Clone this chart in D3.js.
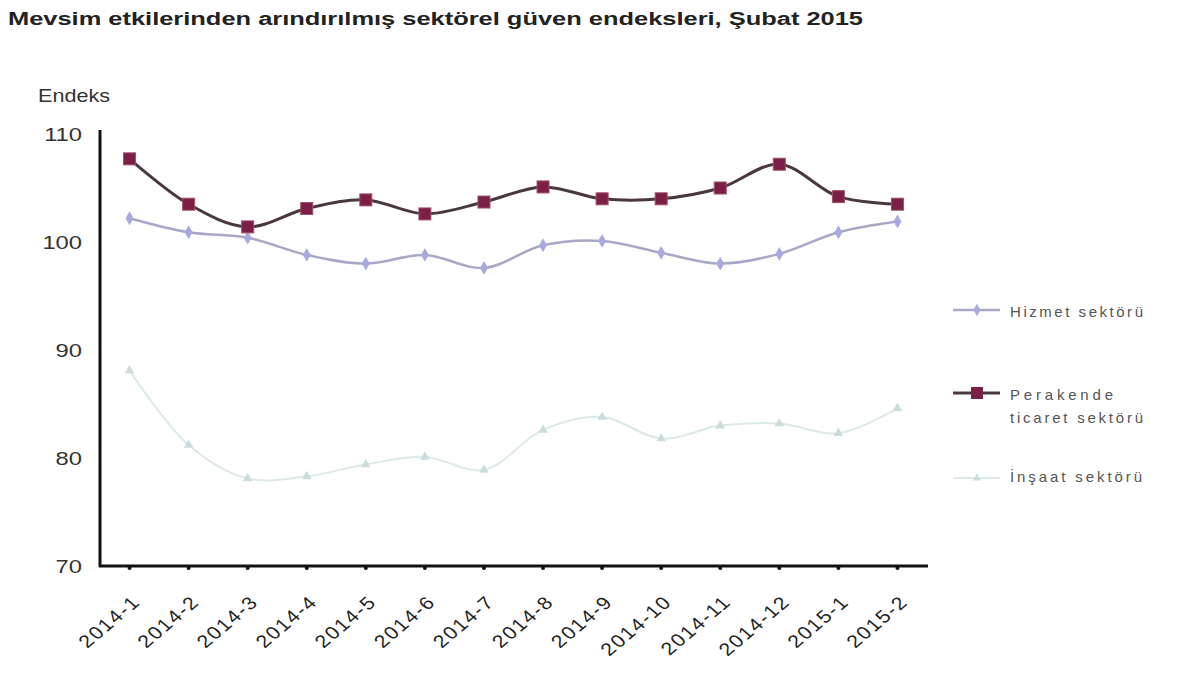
<!DOCTYPE html>
<html><head><meta charset="utf-8">
<script src="https://cdn.jsdelivr.net/npm/d3@7"></script>
<style>body{margin:0;background:#fff}svg{display:block}</style>
</head><body>
<svg id="c" width="1200" height="675"></svg>
<script>
const categories = ["2014-1","2014-2","2014-3","2014-4","2014-5","2014-6","2014-7","2014-8","2014-9","2014-10","2014-11","2014-12","2015-1","2015-2"];
const hizmet = [102.2,100.9,100.4,98.8,98.0,98.8,97.6,99.7,100.1,99.0,98.0,98.9,100.9,101.9];
const perakende = [107.7,103.5,101.4,103.1,103.9,102.6,103.7,105.1,104.0,104.0,105.0,107.2,104.2,103.5];
const insaat = [88.1,81.2,78.1,78.3,79.4,80.1,78.9,82.6,83.8,81.8,83.0,83.2,82.3,84.6];
const yTicks = [70,80,90,100,110];

const svg = d3.select("#c");
const x = d3.scaleBand().domain(categories).range([100,927]);
const cx = d => x(d) + x.bandwidth()/2;
const y = d3.scaleLinear().domain([70,110]).range([566,134]);
const font = "'Liberation Sans', Arial, sans-serif";
const SX = 1.2;

svg.append("text").attr("x",8).attr("y",25).attr("font-family","'Liberation Sans Narrow','Liberation Sans',Arial,sans-serif")
  .attr("font-weight","bold").attr("font-size",18).attr("fill","#222")
  .attr("textLength",855).attr("lengthAdjust","spacingAndGlyphs")
  .text("Mevsim etkilerinden arındırılmış sektörel güven endeksleri, Şubat 2015");

svg.append("text").attr("transform",`translate(38,102) scale(${SX},1)`).attr("font-family",font).attr("font-size",18).attr("fill","#333").text("Endeks");

// y tick labels
svg.append("g").selectAll("text").data(yTicks).join("text")
  .attr("transform",d=>`translate(82,${y(d)+7}) scale(1.25,1)`).attr("text-anchor","end")
  .attr("font-family",font).attr("font-size",19).attr("fill","#333").text(d=>d);

// axes lines
svg.append("line").attr("x1",100).attr("x2",100).attr("y1",130).attr("y2",567).attr("stroke","#111").attr("stroke-width",3);
svg.append("line").attr("x1",99).attr("x2",928).attr("y1",566).attr("y2",566).attr("stroke","#111").attr("stroke-width",3);
// x tick dots
svg.append("g").selectAll("circle").data(categories).join("circle")
  .attr("cx",d=>cx(d)).attr("cy",568).attr("r",2).attr("fill","#111");
// x tick labels
svg.append("g").selectAll("text").data(categories).join("text")
  .attr("transform",d=>`translate(${cx(d)+12},${603}) scale(1.18,1) rotate(-45)`)
  .attr("text-anchor","end").attr("font-family",font).attr("font-size",18).attr("letter-spacing",1.5)
  .attr("fill","#222").text(d=>d);

const line = d3.line().x((d,i)=>cx(categories[i])).y(d=>y(d)).curve(d3.curveCatmullRom.alpha(0.5));

// insaat
svg.append("path").attr("d",line(insaat)).attr("fill","none").attr("stroke","#dde9e9").attr("stroke-width",2);
svg.append("g").selectAll("path").data(insaat).join("path")
  .attr("d",d3.symbol(d3.symbolTriangle,40)).attr("transform",(d,i)=>`translate(${cx(categories[i])},${y(d)})`).attr("fill","#cadcdc");
// hizmet
svg.append("path").attr("d",line(hizmet)).attr("fill","none").attr("stroke","#a8a8c6").attr("stroke-width",2.5);
svg.append("g").selectAll("path").data(hizmet).join("path")
  .attr("d",d3.symbol(d3.symbolDiamond,55)).attr("transform",(d,i)=>`translate(${cx(categories[i])},${y(d)})`).attr("fill","#a9a9e2");
// perakende
svg.append("path").attr("d",line(perakende)).attr("fill","none").attr("stroke","#4a3840").attr("stroke-width",3);
svg.append("g").selectAll("rect").data(perakende).join("rect")
  .attr("x",(d,i)=>cx(categories[i])-6).attr("y",d=>y(d)-6).attr("width",12).attr("height",12)
  .attr("fill","#7b1f47").attr("stroke","#a0506a").attr("stroke-width",1);

// legend
const lg = svg.append("g").attr("font-family",font).attr("font-size",15).attr("fill","#555").attr("lengthAdjust","spacing");
lg.append("line").attr("x1",953).attr("x2",1000).attr("y1",310).attr("y2",310).attr("stroke","#a8a8c6").attr("stroke-width",2.5);
lg.append("path").attr("d",d3.symbol(d3.symbolDiamond,45)).attr("transform","translate(977,310)").attr("fill","#a9a9e2");
lg.append("text").attr("x",1010).attr("y",317).attr("textLength",133).text("Hizmet sektörü");
lg.append("line").attr("x1",953).attr("x2",1000).attr("y1",393).attr("y2",393).attr("stroke","#4a3840").attr("stroke-width",3);
lg.append("rect").attr("x",971).attr("y",387).attr("width",12).attr("height",12).attr("fill","#7b1f47");
lg.append("text").attr("x",1010).attr("y",400).attr("textLength",103).text("Perakende");
lg.append("text").attr("x",1010).attr("y",423).attr("textLength",133).text("ticaret sektörü");
lg.append("line").attr("x1",953).attr("x2",1000).attr("y1",478).attr("y2",478).attr("stroke","#dde9e9").attr("stroke-width",2);
lg.append("path").attr("d",d3.symbol(d3.symbolTriangle,30)).attr("transform","translate(977,478)").attr("fill","#cadcdc");
lg.append("text").attr("x",1010).attr("y",482).attr("textLength",132).text("İnşaat sektörü");
</script>
</body></html>
